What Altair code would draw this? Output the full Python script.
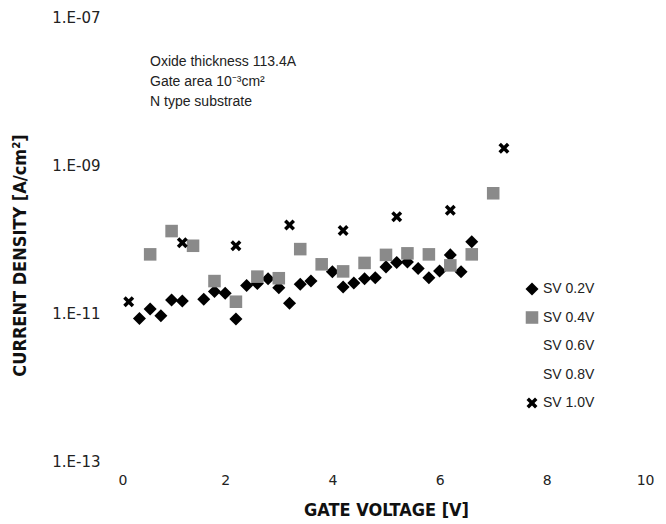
import altair as alt
import pandas as pd

# Stress-voltage series labels (legend order)
series = ["SV 0.2V", "SV 0.4V", "SV 0.6V", "SV 0.8V", "SV 1.0V"]

# Gate voltage (V) and current density (A/cm^2) for each stress voltage
sv02_v = [0.4, 0.6, 0.8, 1.0, 1.2, 1.6, 1.8, 2.0, 2.2, 2.4, 2.6, 2.8, 3.0, 3.2, 3.4,
          3.6, 4.0, 4.2, 4.4, 4.6, 4.8, 5.0, 5.2, 5.4, 5.6, 5.8, 6.0, 6.2, 6.4, 6.6]
sv02_j = [8.4e-12, 1.13e-11, 9.2e-12, 1.5e-11, 1.45e-11, 1.53e-11, 1.95e-11, 1.85e-11,
          8.3e-12, 2.35e-11, 2.5e-11, 2.9e-11, 2.2e-11, 1.35e-11, 2.45e-11, 2.7e-11,
          3.6e-11, 2.25e-11, 2.55e-11, 2.9e-11, 3.0e-11, 4.2e-11, 4.8e-11, 4.9e-11,
          4.0e-11, 3.0e-11, 3.7e-11, 6.1e-11, 3.6e-11, 9.2e-11]

sv04_v = [0.6, 1.0, 1.4, 1.8, 2.2, 2.6, 3.0, 3.4, 3.8, 4.2, 4.6, 5.0, 5.4, 5.8, 6.2, 6.6, 7.0]
sv04_j = [6.2e-11, 1.28e-10, 8.1e-11, 2.7e-11, 1.42e-11, 3.1e-11, 2.95e-11, 7.3e-11,
          4.55e-11, 3.65e-11, 4.75e-11, 6.1e-11, 6.4e-11, 6.2e-11, 4.4e-11, 6.2e-11, 4.15e-10]

sv10_v = [0.2, 1.2, 2.2, 3.2, 4.2, 5.2, 6.2, 7.2]
sv10_j = [1.42e-11, 8.9e-11, 8.1e-11, 1.55e-10, 1.3e-10, 2.0e-10, 2.45e-10, 1.68e-9]

x_ticks = [0, 2, 4, 6, 8, 10]
y_ticks = [1e-13, 1e-11, 1e-9, 1e-7]

notes = ["Oxide thickness 113.4A", "Gate area 10\u207b\u00b3cm\u00b2", "N type substrate"]

rows = []
for name, vs, js in [(series[0], sv02_v, sv02_j), (series[1], sv04_v, sv04_j),
                     (series[4], sv10_v, sv10_j)]:
    for v, j in zip(vs, js):
        rows.append({"series": name, "vg": v, "j": j})
df = pd.DataFrame(rows)

# bold "x" marker drawn as a custom symbol in the [-1, 1] box
X_PATH = ("M-1,-0.55L-0.55,-1L0,-0.45L0.55,-1L1,-0.55L0.45,0L1,0.55L0.55,1"
          "L0,0.45L-0.55,1L-1,0.55L-0.45,0Z")

FONT = "Liberation Sans"
TICK_FONT = "DejaVu Sans"
BOLD = "Liberation Sans Narrow, DejaVu Sans Condensed, Liberation Sans"

points = alt.Chart(df).mark_point(filled=True, opacity=1, strokeWidth=0).encode(
    x=alt.X("vg:Q", scale=alt.Scale(domain=[0, 10], nice=False),
            axis=alt.Axis(values=x_ticks, title="GATE VOLTAGE [V]", domain=False,
                          ticks=False, grid=False, labelPadding=12,
                          labelFont=TICK_FONT, labelFontSize=14, labelColor="#222",
                          titleFont=BOLD, titleFontSize=18, titleFontWeight="bold",
                          titleColor="#111", titleBaseline="middle", titleY=49)),
    y=alt.Y("j:Q", scale=alt.Scale(type="log", domain=[1e-13, 1e-7], nice=False),
            axis=alt.Axis(values=y_ticks, title="CURRENT DENSITY [A/cm\u00b2]",
                          labelExpr="'1.E-' + format(-round(log(datum.value) / LN10), '02d')",
                          domain=False, ticks=False, grid=False, labelPadding=18,
                          labelFont=TICK_FONT, labelFontSize=15, labelColor="#222",
                          titleFont=BOLD, titleFontSize=18, titleFontWeight="bold",
                          titleColor="#111", titleAngle=-90, titleBaseline="middle",
                          titleAlign="center", titleX=-98, titleY=238)),
    shape=alt.Shape("series:N", scale=alt.Scale(
        domain=series, range=["diamond", "square", "triangle-up", "triangle-down", X_PATH])),
    size=alt.Size("series:N", legend=None, scale=alt.Scale(
        domain=series, range=[170, 120, 100, 100, 215])),
    color=alt.Color("series:N", scale=alt.Scale(
        domain=series, range=["#000000", "#8a8a8a", "#ffffff", "#ffffff", "#000000"]),
        legend=alt.Legend(title=None, orient="none", legendX=407, legendY=265,
                          labelFont=FONT, labelFontSize=14, labelColor="#222",
                          symbolSize=105, symbolStrokeWidth=0, labelOffset=4,
                          rowPadding=14.5, padding=0)),
    order=alt.Order("series:N"),
)

note = alt.Chart(pd.DataFrame({"t": [notes]})).mark_text(
    align="left", baseline="top", font=FONT, fontSize=14, color="#222", lineHeight=20
).encode(x=alt.value(32), y=alt.value(38), text="t")

chart = alt.layer(points, note).properties(
    width=536, height=444,
    autosize=alt.AutoSizeParams(type="none"),
    padding={"left": 118, "top": 17, "right": 12, "bottom": 63},
    background="white",
).configure_view(stroke=None)

chart.save("out.html", embed_options={"renderer": "svg", "actions": False})
